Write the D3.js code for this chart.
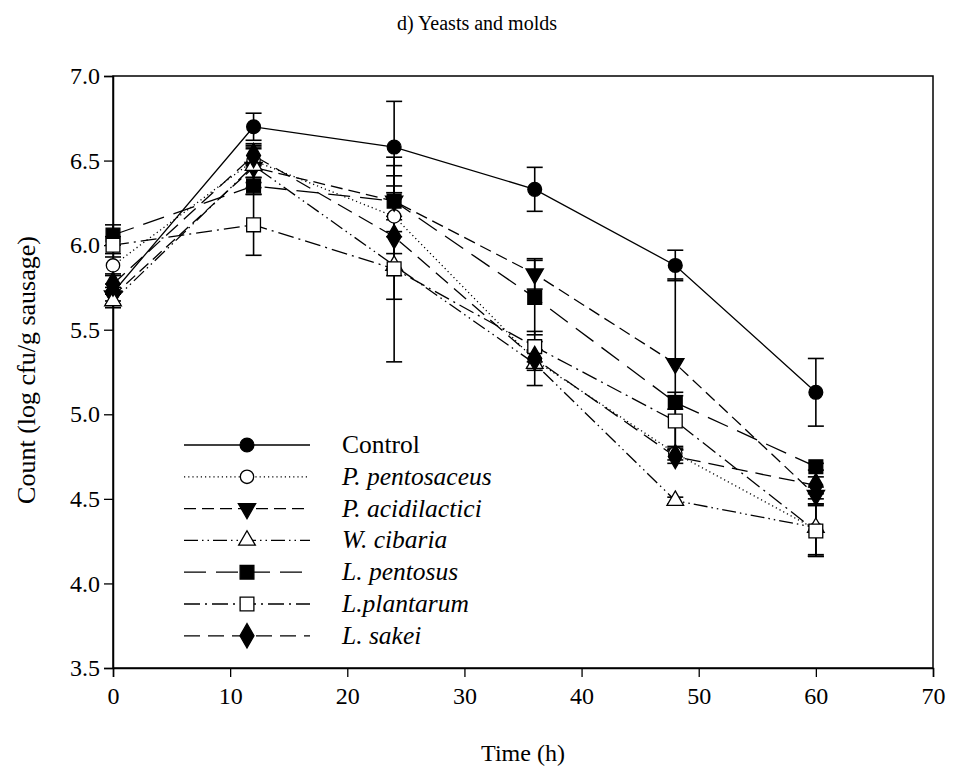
<!DOCTYPE html>
<html>
<head>
<meta charset="utf-8">
<script src="https://cdn.jsdelivr.net/npm/d3@7"></script>
<style>
  html, body { margin: 0; padding: 0; background: #fff; }
  svg { display: block; }
  text { font-family: "Liberation Serif", "Times New Roman", serif; fill: #000; }
</style>
</head>
<body>
<svg id="chart" width="954" height="772"></svg>
<script>
// ---------- data ----------
const times = [0, 12, 24, 36, 48, 60];
const seriesNames = ["Control", "P. pentosaceus", "P. acidilactici", "W. cibaria", "L. pentosus", "L.plantarum", "L. sakei"];
const control        = [5.72, 6.70, 6.58, 6.33, 5.88, 5.13];
const controlErr     = [0.05, 0.08, 0.27, 0.13, 0.09, 0.20];
const pentosaceus    = [5.88, 6.50, 6.17, 5.32, 4.77, 4.32];
const pentosaceusErr = [0.05, 0.10, 0.35, 0.06, 0.04, 0.15];
const acidilactici   = [5.70, 6.46, 6.26, 5.83, 5.30, 4.52];
const acidilacticiErr= [0.05, 0.12, 0.21, 0.09, 0.50, 0.05];
const cibaria        = [5.67, 6.47, 5.88, 5.30, 4.49, 4.33];
const cibariaErr     = [0.04, 0.10, 0.20, 0.13, 0.02, 0.17];
const pentosus       = [6.06, 6.35, 6.26, 5.69, 5.07, 4.69];
const pentosusErr    = [0.06, 0.05, 0.09, 0.22, 0.04, 0.02];
const plantarum      = [6.00, 6.12, 5.86, 5.40, 4.96, 4.31];
const plantarumErr   = [0.05, 0.18, 0.55, 0.09, 0.17, 0.15];
const sakei          = [5.77, 6.53, 6.05, 5.33, 4.75, 4.58];
const sakeiErr       = [0.05, 0.06, 0.10, 0.05, 0.04, 0.05];
const xTicks = [0, 10, 20, 30, 40, 50, 60, 70];
const yTicks = [3.5, 4.0, 4.5, 5.0, 5.5, 6.0, 6.5, 7.0];

const seriesValues = [control, pentosaceus, acidilactici, cibaria, pentosus, plantarum, sakei];
const seriesErrors = [controlErr, pentosaceusErr, acidilacticiErr, cibariaErr, pentosusErr, plantarumErr, sakeiErr];

// ---------- styles ----------
const styles = [
  { dash: null,            symbol: d3.symbolCircle,   fill: "#000", rot: 0 },
  { dash: "1.2,3",         symbol: d3.symbolCircle,   fill: "#fff", rot: 0 },
  { dash: "12,6",          symbol: d3.symbolTriangle, fill: "#000", rot: 180 },
  { dash: "14,4,1.5,4,1.5,4", symbol: d3.symbolTriangle, fill: "#fff", rot: 0 },
  { dash: "22,10",         symbol: d3.symbolSquare,   fill: "#000", rot: 0 },
  { dash: "16,5,2,5",      symbol: d3.symbolSquare,   fill: "#fff", rot: 0 },
  { dash: "16,8",          symbol: d3.symbolDiamond,  fill: "#000", rot: 0 }
];
const symSize = [150, 140, 130, 120, 190, 190, 170];

const svg = d3.select("#chart");
const margin = { left: 113, right: 954 - 933, top: 76, bottom: 772 - 668 };
const W = 954, H = 772;
const FONT = "'Liberation Serif', 'Times New Roman', serif";

const x = d3.scaleLinear().domain([0, 70]).range([margin.left, W - margin.right]);
const y = d3.scaleLinear().domain([3.5, 7.0]).range([H - margin.bottom, margin.top]);

// title
svg.append("text").attr("x", 477).attr("y", 30).attr("text-anchor", "middle")
  .style("font-size", "20px").text("d) Yeasts and molds");

// frame
svg.append("rect").attr("x", x(0)).attr("y", y(7)).attr("width", x(70) - x(0)).attr("height", y(3.5) - y(7))
  .attr("fill", "none").attr("stroke", "#000").attr("stroke-width", 1.5);

// axes
const xAxis = svg.append("g").attr("transform", `translate(0,${y(3.5)})`)
  .call(d3.axisBottom(x).tickValues(xTicks).tickSize(9).tickPadding(10).tickFormat(d3.format("d")));
const yAxis = svg.append("g").attr("transform", `translate(${x(0)},0)`)
  .call(d3.axisLeft(y).tickValues(yTicks).tickSize(9).tickPadding(4).tickFormat(d3.format(".1f")));
[xAxis, yAxis].forEach(g => {
  g.attr("font-size", null).attr("font-family", null);
  g.select(".domain").attr("stroke-width", 1.5);
  g.selectAll(".tick line").attr("stroke-width", 1.3);
  g.selectAll("text").style("font-size", "24px").style("font-family", FONT);
});

// axis labels
svg.append("text").attr("x", x(35)).attr("y", 761).attr("text-anchor", "middle")
  .style("font-size", "24px").text("Time (h)");
svg.append("text").attr("transform", `translate(35,${(y(3.5) + y(7)) / 2 - 2}) rotate(-90)`)
  .attr("text-anchor", "middle").style("font-size", "26px").text("Count (log cfu/g sausage)");

const line = d3.line().x((d, i) => x(times[i])).y(d => y(d));

// lines
seriesValues.forEach((vals, s) => {
  svg.append("path").datum(vals).attr("d", line).attr("fill", "none")
    .attr("stroke", "#000").attr("stroke-width", 1.3)
    .attr("stroke-dasharray", styles[s].dash);
});

// error bars
seriesValues.forEach((vals, s) => {
  const g = svg.append("g").attr("stroke", "#000").attr("stroke-width", 1.6);
  vals.forEach((v, i) => {
    const e = seriesErrors[s][i];
    const cx = x(times[i]);
    g.append("line").attr("x1", cx).attr("x2", cx).attr("y1", y(v - e)).attr("y2", y(v + e));
    [v - e, v + e].forEach(c => {
      g.append("line").attr("x1", cx - 8).attr("x2", cx + 8).attr("y1", y(c)).attr("y2", y(c));
    });
  });
});

// markers
function drawMarker(sel, s, cx, cy) {
  const st = styles[s];
  sel.append("path")
    .attr("d", d3.symbol().type(st.symbol).size(symSize[s])())
    .attr("transform", `translate(${cx},${cy}) rotate(${st.rot})`)
    .attr("fill", st.fill).attr("stroke", "#000").attr("stroke-width", 1.3);
}
seriesValues.forEach((vals, s) => {
  const g = svg.append("g");
  vals.forEach((v, i) => drawMarker(g, s, x(times[i]), y(v)));
});

// legend
const lg = svg.append("g");
seriesNames.forEach((name, s) => {
  const ly = 445 + s * 31.8;
  lg.append("line").attr("x1", 184).attr("x2", 310).attr("y1", ly).attr("y2", ly)
    .attr("stroke", "#000").attr("stroke-width", 1.3).attr("stroke-dasharray", styles[s].dash);
  drawMarker(lg, s, 247, ly);
  lg.append("text").attr("x", 342).attr("y", ly + 8).style("font-size", "25.5px")
    .style("font-style", s === 0 ? "normal" : "italic").text(name);
});
</script>
</body>
</html>
